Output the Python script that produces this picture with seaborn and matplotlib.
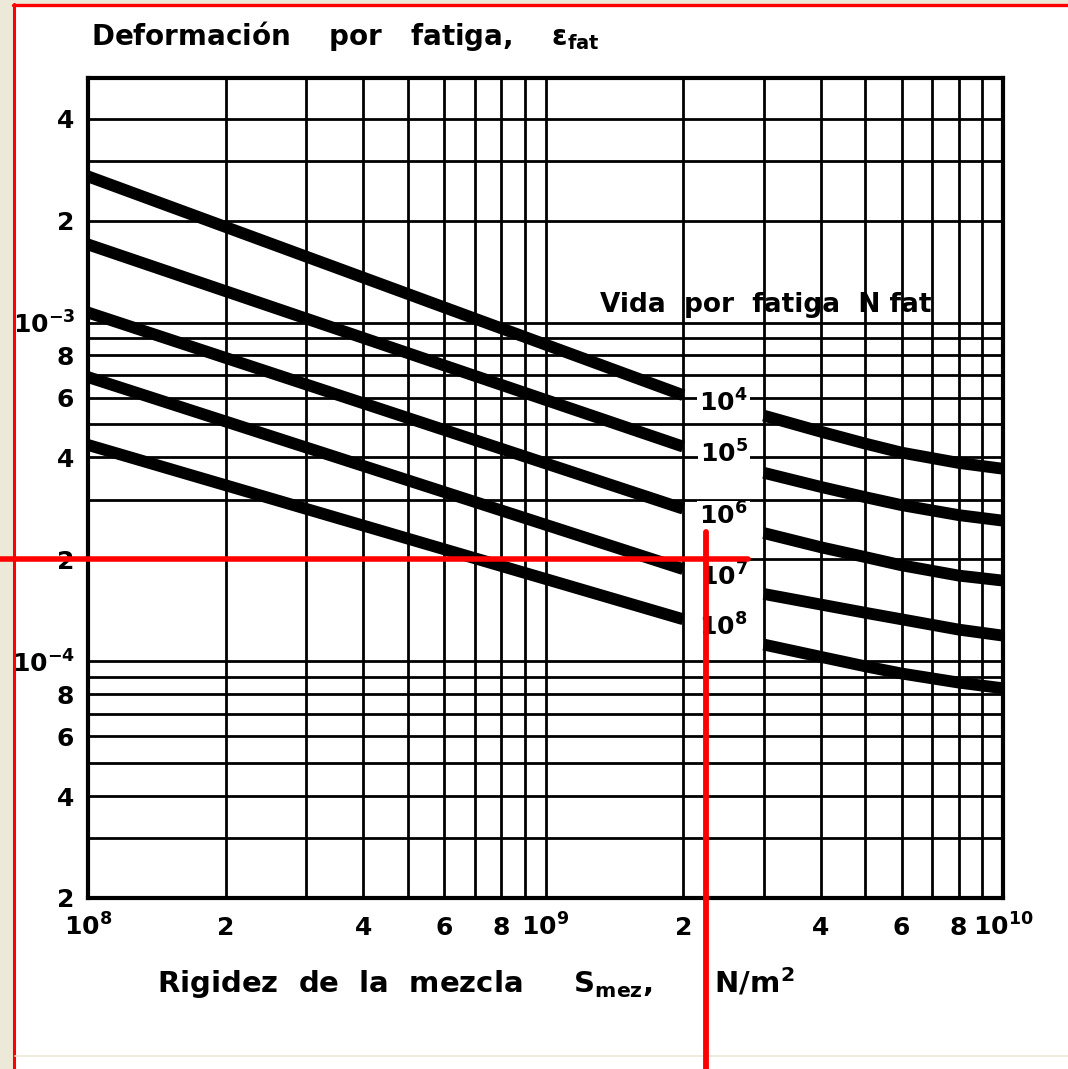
import numpy as np
import pandas as pd
import matplotlib
matplotlib.use("Agg")
import matplotlib.pyplot as plt
import seaborn as sns
from matplotlib.ticker import FixedLocator, FixedFormatter
from matplotlib.lines import Line2D
from matplotlib.patches import Rectangle
from matplotlib import transforms

# ---------------- data ----------------
life_labels = ["$10^4$", "$10^5$", "$10^6$", "$10^7$", "$10^8$"]

s_left = [1e8, 2e9]
eps_left_1e4 = [2.70e-3, 6.10e-4]
eps_left_1e5 = [1.70e-3, 4.30e-4]
eps_left_1e6 = [1.07e-3, 2.82e-4]
eps_left_1e7 = [6.90e-4, 1.87e-4]
eps_left_1e8 = [4.35e-4, 1.33e-4]

s_right = [3e9, 4e9, 5e9, 6e9, 8e9, 1e10]
eps_right_1e4 = [5.31e-4, 4.76e-4, 4.39e-4, 4.13e-4, 3.85e-4, 3.70e-4]
eps_right_1e5 = [3.60e-4, 3.27e-4, 3.05e-4, 2.89e-4, 2.70e-4, 2.60e-4]
eps_right_1e6 = [2.39e-4, 2.17e-4, 2.03e-4, 1.92e-4, 1.79e-4, 1.73e-4]
eps_right_1e7 = [1.58e-4, 1.47e-4, 1.39e-4, 1.33e-4, 1.24e-4, 1.19e-4]
eps_right_1e8 = [1.12e-4, 1.03e-4, 9.66e-5, 9.20e-5, 8.65e-5, 8.32e-5]

x_major = [1e8, 1e9, 1e10]
x_major_labels = ["$10^8$", "$10^9$", "$10^{10}$"]
x_minor_lab = [2e8, 4e8, 6e8, 8e8, 2e9, 4e9, 6e9, 8e9]
x_minor_labels = ["2", "4", "6", "8", "2", "4", "6", "8"]
y_major = [1e-4, 1e-3]
y_major_labels = ["$10^{-4}$", "$10^{-3}$"]
y_minor_lab = [2e-5, 4e-5, 6e-5, 8e-5, 2e-4, 4e-4, 6e-4, 8e-4, 2e-3, 4e-3]
y_minor_labels = ["2", "4", "6", "8", "2", "4", "6", "8", "2", "4"]

ref_eps = 2e-4     # red reference line (strain)
ref_s = 2.24e9     # red reference line (stiffness)

# ---------------- table ----------------
lefts = [eps_left_1e4, eps_left_1e5, eps_left_1e6, eps_left_1e7, eps_left_1e8]
rights = [eps_right_1e4, eps_right_1e5, eps_right_1e6, eps_right_1e7, eps_right_1e8]
rows = []
for i, (lab, el, er) in enumerate(zip(life_labels, lefts, rights)):
    for s, e in zip(s_left, el):
        rows.append(dict(S=s, eps=e, N=lab, seg=f"{i}L"))
    for s, e in zip(s_right, er):
        rows.append(dict(S=s, eps=e, N=lab, seg=f"{i}R"))
df = pd.DataFrame(rows)

# ---------------- style ----------------
sns.set_theme(style="white")
plt.rcParams["font.family"] = ["DejaVu Sans"]
plt.rcParams["font.weight"] = "bold"
plt.rcParams["mathtext.fontset"] = "dejavusans"
plt.rcParams["mathtext.default"] = "bf"
plt.rcParams["text.color"] = "black"
plt.rcParams["xtick.color"] = "black"
plt.rcParams["ytick.color"] = "black"
plt.rcParams["xtick.labelcolor"] = "black"
plt.rcParams["ytick.labelcolor"] = "black"

W, H = 1068, 1069
fig = plt.figure(figsize=(W / 100, H / 100), dpi=100)
fig.patch.set_facecolor("white")
ax = fig.add_axes([88 / W, 1 - 898 / H, 915 / W, 820 / H])
ax.set_facecolor("white")

ax.set_xscale("log")
ax.set_yscale("log")
ax.set_xlim(1e8, 1e10)
ax.set_ylim(2e-5, 5.27e-3)

# grid at every integer multiple
xg = [m * 10.0 ** d for d in (8, 9) for m in range(1, 10)] + [1e10]
yg = [m * 10.0 ** d for d in (-5, -4, -3) for m in range(1, 10) if m * 10.0 ** d < 4.5e-3]
for v in xg:
    ax.axvline(v, color="black", lw=2.0, zorder=1)
for v in yg:
    ax.axhline(v, color="black", lw=2.0, zorder=1)

sns.lineplot(data=df, x="S", y="eps", units="seg", estimator=None,
             color="black", linewidth=8.5, ax=ax, legend=False, zorder=3,
             solid_capstyle="butt", solid_joinstyle="round")

# curve labels in the gap
for lab, el in zip(life_labels, lefts):
    ax.text(2.45e9, el[-1] * 0.95, lab, ha="center", va="center",
            fontsize=18, fontweight="bold", color="black",
            zorder=4, bbox=dict(fc="white", ec="none", pad=1.5))

ax.text(0.741, 0.707, "Vida  por  fatiga  N fat", transform=ax.transAxes,
        ha="center", va="bottom", fontsize=19, fontweight="bold", zorder=2)

# ticks
ax.xaxis.set_major_locator(FixedLocator(x_major))
ax.xaxis.set_major_formatter(FixedFormatter(x_major_labels))
ax.xaxis.set_minor_locator(FixedLocator(x_minor_lab))
ax.xaxis.set_minor_formatter(FixedFormatter(x_minor_labels))
ax.yaxis.set_major_locator(FixedLocator(y_major))
ax.yaxis.set_major_formatter(FixedFormatter(y_major_labels))
ax.yaxis.set_minor_locator(FixedLocator(y_minor_lab))
ax.yaxis.set_minor_formatter(FixedFormatter(y_minor_labels))
ax.tick_params(which="major", direction="out", length=7, width=2.5,
               color="black", labelsize=18, pad=2)
ax.tick_params(which="minor", length=0, labelsize=18)
ax.tick_params(axis="x", which="minor", pad=13)
ax.tick_params(axis="y", which="minor", pad=10)
ax.tick_params(axis="x", which="major", pad=4)
for t in ax.get_xticklabels(which="both") + ax.get_yticklabels(which="both"):
    t.set_fontweight("bold")
ax.set_xlabel("")
ax.set_ylabel("")
for sp in ax.spines.values():
    sp.set_visible(True)
    sp.set_color("black")
    sp.set_linewidth(3)
    sp.set_zorder(5)

# titles
fig.text(91 / W, 1 - 36 / H, r"Deformación    por   fatiga,    $\epsilon_{fat}$",
         ha="left", va="center", fontsize=20, fontweight="bold")
fig.text(157 / W, 1 - 983 / H, r"Rigidez  de  la  mezcla     S$_{mez}$,      N/m$^2$",
         ha="left", va="center", fontsize=21, fontweight="bold")

# page frame (beige margin) and red reference lines
beige = "#ECE9D8"
fig.add_artist(Rectangle((0, 0), 13 / W, 1, transform=fig.transFigure,
                         color=beige, zorder=10))
fig.add_artist(Rectangle((0, 1 - 3 / H), 1, 3 / H, transform=fig.transFigure,
                         color=beige, zorder=10))
fig.add_artist(Line2D([14 / W, 14 / W], [0, 1 - 4 / H], transform=fig.transFigure,
                      color="red", lw=2.2, zorder=11))
fig.add_artist(Line2D([13 / W, 1], [1 - 4.5 / H, 1 - 4.5 / H], transform=fig.transFigure,
                      color="red", lw=2.4, zorder=11))
fig.add_artist(Line2D([15 / W, 1], [1 - 1056 / H, 1 - 1056 / H], transform=fig.transFigure,
                      color=beige, lw=1.2, zorder=11))

th = transforms.blended_transform_factory(fig.transFigure, ax.transData)
fig.add_artist(Line2D([0, 748 / W], [ref_eps, ref_eps], transform=th,
                      color="red", lw=4, zorder=12))
tv = transforms.blended_transform_factory(ax.transData, ax.transAxes)
fig.add_artist(Line2D([ref_s, ref_s], [-0.21, 0.446], transform=tv,
                      color="red", lw=4.2, zorder=12))

fig.savefig("out.png", dpi=100, facecolor="white")
